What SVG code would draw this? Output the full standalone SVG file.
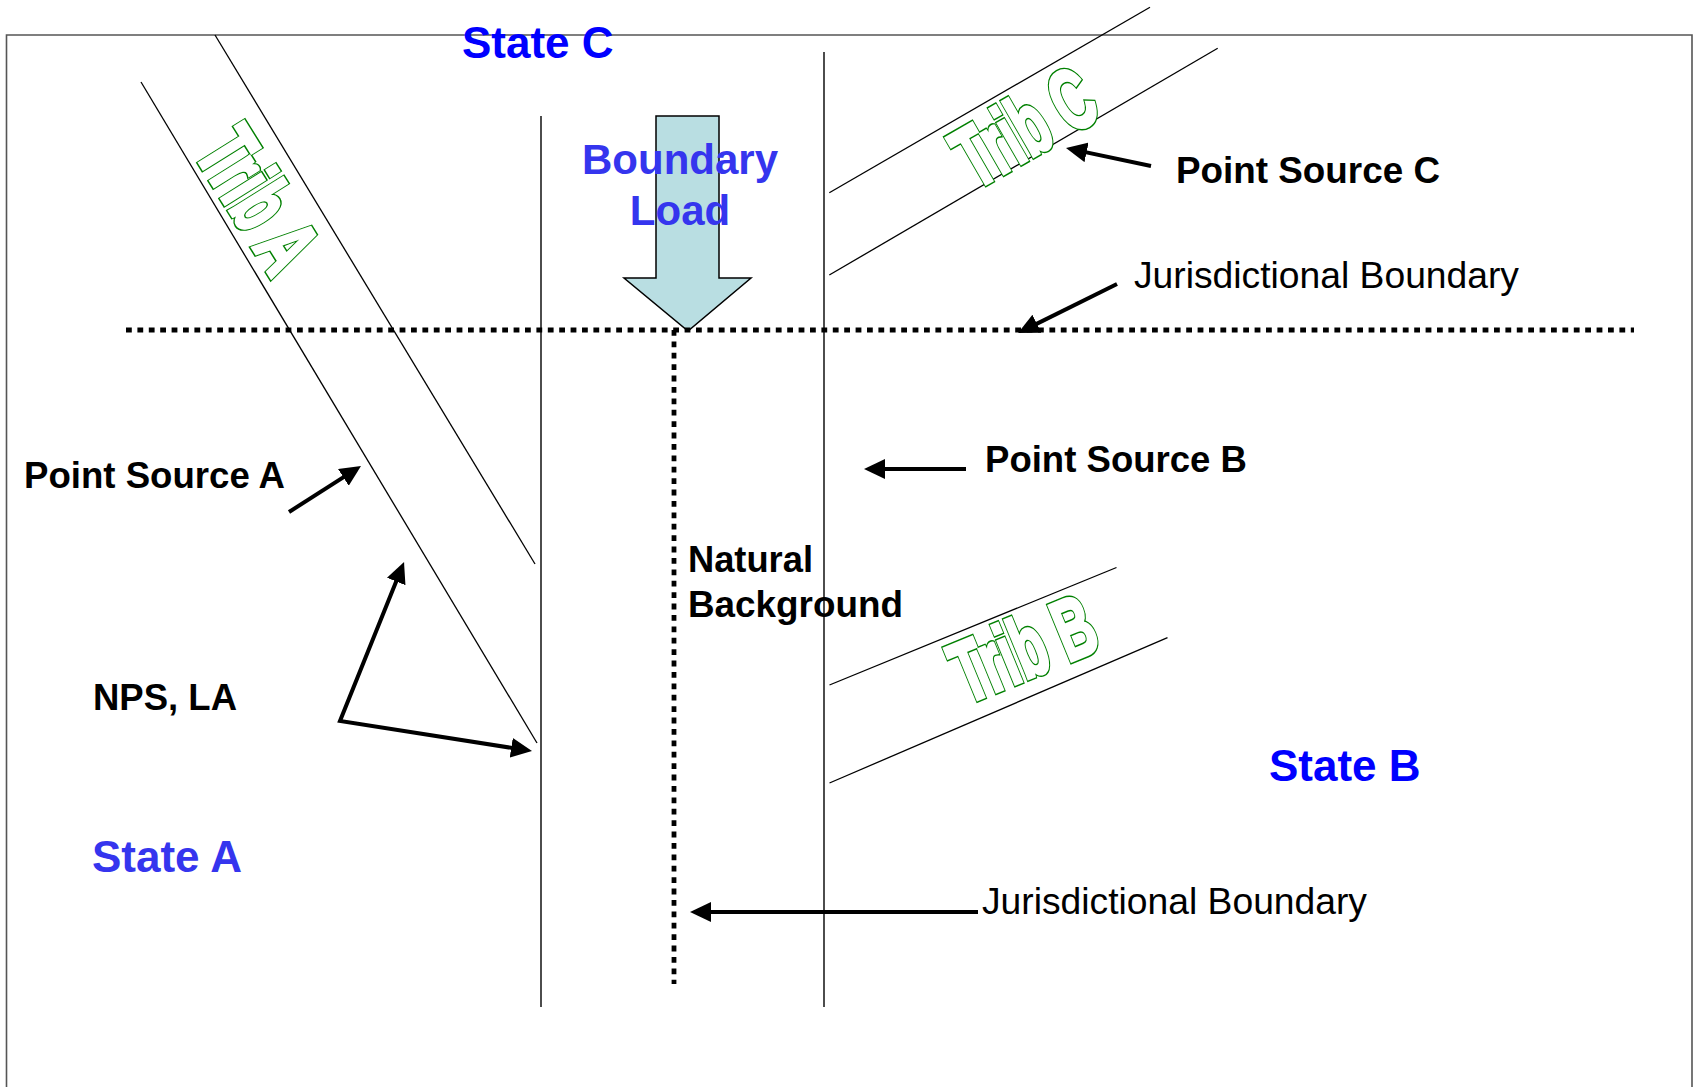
<svg xmlns="http://www.w3.org/2000/svg" width="1698" height="1087" viewBox="0 0 1698 1087">
  <defs>
    <style>
      .frame { fill: none; stroke: #555555; stroke-width: 1.6; }
      .edge { fill: none; stroke: #000000; stroke-width: 1.4; }
      .river { fill: none; stroke: #000000; stroke-width: 1.3; }
      .dotted { fill: none; stroke: #000000; stroke-width: 4.8; stroke-dasharray: 5.8 5.6; }
      .conn { fill: none; stroke: #000000; stroke-width: 4; marker-end: url(#head); }
      .lbl { font-family: "Liberation Sans", Arial, sans-serif; font-weight: bold; font-size: 36.5px; fill: #000000; }
      .reg { font-family: "Liberation Sans", Arial, sans-serif; font-size: 37px; fill: #000000; }
      .state { font-family: "Liberation Sans", Arial, sans-serif; font-weight: bold; font-size: 44px; fill: #0000FF; }
      .soft { fill: #3535EE; }
      .tribtxt { font-family: "Liberation Sans", Arial, sans-serif; font-weight: bold; font-size: 86px; }
      /* outlined word-art: a wide green stroke, then a narrower white stroke and fill on top */
      .trib-under { fill: #008000; stroke: #008000; stroke-width: 6.6; stroke-linejoin: miter; }
      .trib-over { fill: #ffffff; stroke: #ffffff; stroke-width: 3.6; stroke-linejoin: miter; }
    </style>
    <marker id="head" markerUnits="userSpaceOnUse" viewBox="0 0 21 20" markerWidth="21" markerHeight="20" refX="11" refY="10" orient="auto-start-reverse">
      <path d="M0,0 L21,10 L0,20 z" fill="#000000"/>
    </marker>
  </defs>

  <rect width="1698" height="1087" fill="#ffffff"/>

  <!-- outer frame (open at the bottom) -->
  <path class="frame" d="M6.5,1087 V35 H1692 V1087"/>

  <!-- main channel banks -->
  <g id="channel">
    <line class="edge" x1="541" y1="116" x2="541" y2="1007"/>
    <line class="edge" x1="824" y1="52" x2="824" y2="1007"/>
  </g>

  <!-- boundary load arrow -->
  <g id="boundary-load">
    <path d="M656,116 H719 V278 H751 L688,331 L624,278 H656 Z" fill="#B9DEE2" stroke="#000000" stroke-width="1.5" stroke-linejoin="miter"/>
    <text class="state soft" x="680" y="174" text-anchor="middle" style="font-size:42px">Boundary</text>
    <text class="state soft" x="680" y="225" text-anchor="middle" style="font-size:42px">Load</text>
  </g>

  <!-- jurisdictional boundaries -->
  <g id="jurisdictional-lines">
    <line class="dotted" x1="126" y1="330" x2="1634" y2="330"/>
    <line class="dotted" x1="674" y1="330" x2="674" y2="984"/>
  </g>

  <!-- tributaries -->
  <g id="trib-a">
    <line class="river" x1="215" y1="35" x2="535" y2="564"/>
    <line class="river" x1="141" y1="82" x2="537" y2="743"/>
    <g class="trib-under"><text id="trib-a-name" class="tribtxt" transform="translate(193,152) rotate(58)" textLength="150" lengthAdjust="spacingAndGlyphs">Trib A</text></g>
    <use href="#trib-a-name" class="trib-over"/>
  </g>
  <g id="trib-b">
    <line class="river" x1="829.5" y1="685" x2="1116.5" y2="567.5"/>
    <line class="river" x1="829.5" y1="783" x2="1167.5" y2="637.7"/>
    <g class="trib-under"><text id="trib-b-name" class="tribtxt" transform="translate(966,704) rotate(-22.3)" textLength="148" lengthAdjust="spacingAndGlyphs">Trib B</text></g>
    <use href="#trib-b-name" class="trib-over"/>
  </g>
  <g id="trib-c">
    <line class="river" x1="829.3" y1="192.7" x2="1150" y2="7.3"/>
    <line class="river" x1="829.3" y1="275" x2="1217.7" y2="48.3"/>
    <g class="trib-under"><text id="trib-c-name" class="tribtxt" transform="translate(975,190) rotate(-30)" textLength="148" lengthAdjust="spacingAndGlyphs">Trib C</text></g>
    <use href="#trib-c-name" class="trib-over"/>
  </g>

  <!-- state names -->
  <g id="state-c"><text class="state" x="462" y="58">State C</text></g>
  <g id="state-b"><text class="state" x="1269" y="781">State B</text></g>
  <g id="state-a"><text class="state soft" x="92" y="872">State A</text></g>

  <!-- source labels -->
  <g id="point-source-c"><text class="lbl" x="1176" y="183" textLength="264" lengthAdjust="spacingAndGlyphs">Point Source C</text></g>
  <g id="point-source-b"><text class="lbl" x="985" y="472" textLength="262" lengthAdjust="spacingAndGlyphs">Point Source B</text></g>
  <g id="point-source-a"><text class="lbl" x="24" y="488" textLength="261" lengthAdjust="spacingAndGlyphs">Point Source A</text></g>
  <g id="nps-la"><text class="lbl" x="93" y="710" textLength="144" lengthAdjust="spacingAndGlyphs">NPS, LA</text></g>
  <g id="natural-background">
    <text class="lbl" x="688" y="572" textLength="125" lengthAdjust="spacingAndGlyphs">Natural</text>
    <text class="lbl" x="688" y="617" textLength="215" lengthAdjust="spacingAndGlyphs">Background</text>
  </g>
  <g id="jurisdiction-label-top"><text class="reg" x="1134" y="288" textLength="385" lengthAdjust="spacingAndGlyphs">Jurisdictional Boundary</text></g>
  <g id="jurisdiction-label-bottom"><text class="reg" x="982" y="914" textLength="385" lengthAdjust="spacingAndGlyphs">Jurisdictional Boundary</text></g>

  <!-- pointer arrows -->
  <g id="connectors">
    <path class="conn" d="M1151,166 L1075.8,150.1"/>
    <path class="conn" d="M1117,284 L1027,328.6"/>
    <path class="conn" d="M966,469 L874,469"/>
    <path class="conn" d="M289,512 L352.6,471.4"/>
    <path class="conn" d="M400.3,571.3 L340,721 L522.1,749.5" style="marker-start:url(#head)"/>
    <path class="conn" d="M978,912 L700,912"/>
  </g>
</svg>
